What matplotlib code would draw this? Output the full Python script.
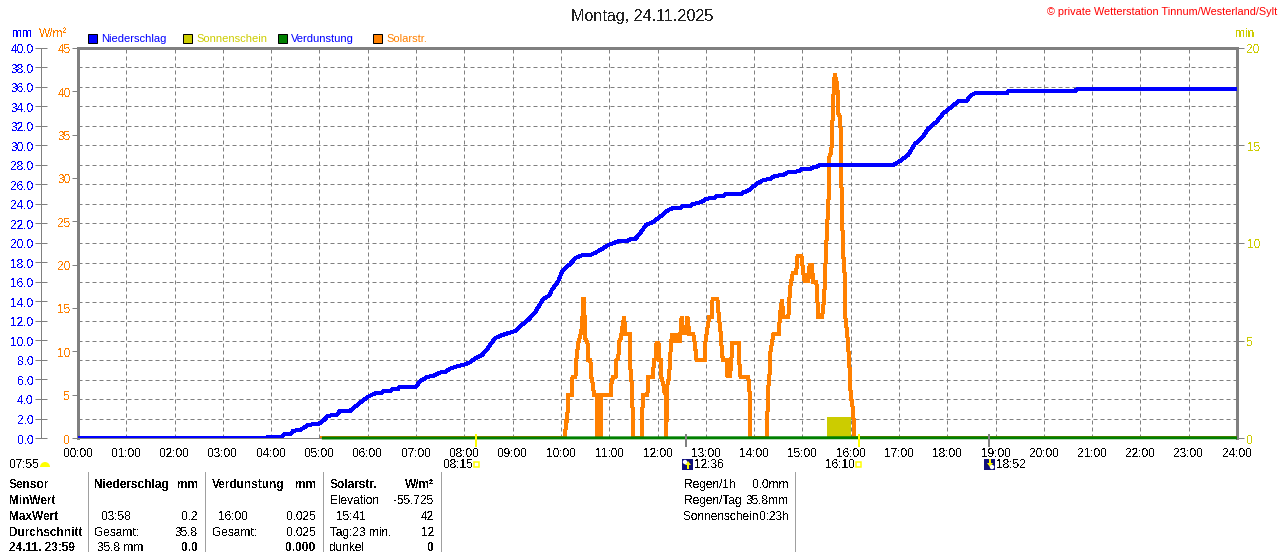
import numpy as np
import matplotlib
matplotlib.use("Agg")
import matplotlib.pyplot as plt
from matplotlib.patches import Rectangle, Wedge, Polygon, Circle
from matplotlib.transforms import IdentityTransform, Affine2D

plt.rcParams['font.family'] = ['Liberation Sans', 'DejaVu Sans']
plt.rcParams['text.antialiased'] = False

hours = list(range(25))
hour_labels = [f"{h:02d}:00" for h in hours]

rain_t = [0, 3.9, 3.94, 4.22, 4.26, 4.39, 4.46, 4.60, 4.77, 4.98, 5.08, 5.18, 5.36, 5.42, 5.63, 5.84, 6.01, 6.15,
          6.27, 6.31, 6.46, 6.51, 6.62, 6.65, 6.99, 7.08, 7.24, 7.36, 7.48, 7.60, 7.70, 7.87, 8.01, 8.12, 8.22,
          8.36, 8.46, 8.63, 8.77, 8.94, 9.07, 9.19, 9.32, 9.46, 9.63, 9.77, 9.81, 9.94, 10.03, 10.19, 10.31,
          10.43, 10.59, 10.70, 10.84, 10.98, 11.19, 11.36, 11.43, 11.53, 11.64, 11.76, 11.91, 12.09, 12.22,
          12.31, 12.46, 12.53, 12.67, 12.74, 12.91, 13.02, 13.19, 13.22, 13.36, 13.40, 13.74, 13.78, 13.88,
          14.04, 14.19, 14.33, 14.43, 14.59, 14.71, 14.93, 14.97, 15.17, 15.22, 15.29, 15.34, 16.88, 17.02,
          17.19, 17.33, 17.47, 17.60, 17.78, 17.92, 18.09, 18.23, 18.39, 18.50, 18.57, 19.23, 19.26, 20.64,
          20.68, 24]
rain_v = [0, 0, 0.13, 0.13, 0.37, 0.37, 0.75, 0.82, 1.36, 1.43, 1.78, 2.29, 2.36, 2.77, 2.77, 3.62, 4.24, 4.58,
          4.58, 4.78, 4.78, 4.99, 4.99, 5.19, 5.19, 5.81, 6.29, 6.36, 6.70, 6.77, 7.11, 7.38, 7.55, 7.76, 8.17,
          8.48, 9.02, 10.22, 10.53, 10.80, 11.0, 11.59, 12.10, 12.85, 14.22, 14.67, 15.18, 16.03, 17.16, 17.84, 18.49,
          18.73, 18.73, 18.97, 19.35, 19.79, 20.17, 20.17, 20.37, 20.37, 20.99, 21.84, 22.15, 22.84, 23.38,
          23.55, 23.55, 23.79, 23.79, 24.0, 24.2, 24.55, 24.62, 24.79, 24.79, 24.99, 24.99, 25.20, 25.37,
          26.02, 26.46, 26.56, 26.91, 26.94, 27.28, 27.35, 27.56, 27.59, 27.76, 27.76, 27.95, 27.97, 28.41,
          29.03, 30.16, 30.74, 31.69, 32.45, 33.30, 33.98, 34.53, 34.53, 35.18, 35.35, 35.35, 35.56, 35.56,
          35.76, 35.76]

solar_t = [5.05, 10.09, 10.10, 10.13, 10.15, 10.23, 10.24, 10.30, 10.32, 10.36, 10.41, 10.44, 10.46, 10.48, 10.50,
           10.55, 10.57, 10.61, 10.63, 10.67, 10.68, 10.74, 10.745, 10.77, 10.79, 10.80, 10.82, 10.83, 10.84, 11.03,
           11.05, 11.08, 11.13, 11.15, 11.19, 11.20, 11.24, 11.28, 11.31, 11.33, 11.43, 11.44, 11.47, 11.50, 11.67,
           11.675, 11.70, 11.79, 11.81, 11.90, 11.93, 11.97, 11.98, 12.02, 12.04, 12.07, 12.08, 12.13, 12.15, 12.17,
           12.18, 12.19, 12.20, 12.24, 12.27, 12.30, 12.33, 12.36, 12.39, 12.43, 12.46, 12.50, 12.53, 12.57, 12.60,
           12.62, 12.66, 12.74, 12.77, 12.81, 12.98, 12.99, 13.07, 13.12, 13.14, 13.24, 13.27, 13.31, 13.34, 13.36,
           13.43, 13.45, 13.48, 13.50, 13.53, 13.55, 13.68, 13.69, 13.72, 13.88, 13.91, 13.92, 14.27, 14.275, 14.29,
           14.33, 14.34, 14.40, 14.52, 14.53, 14.58, 14.60, 14.71, 14.73, 14.75, 14.80, 14.87, 14.90, 14.98, 15.02,
           15.05, 15.09, 15.12, 15.15, 15.20, 15.22, 15.29, 15.33, 15.41, 15.45, 15.49, 15.55, 15.555, 15.60, 15.63,
           15.65, 15.67, 15.71, 15.73, 15.74, 15.78, 15.80, 15.81, 15.84, 15.88, 15.89, 15.94, 15.98, 16.0, 16.05,
           16.08, 24]
solar_v = [0, 0, 2, 2, 5, 5, 7, 7, 9, 11, 12, 13, 16, 16, 11.5,
           11, 9, 9, 7, 6, 5, 5, 0, 5, 0, 5, 0, 5, 5, 5,
           6.5, 7, 7, 9, 9.2, 11, 11.5, 13, 14, 12, 12, 8, 6, 0, 0,
           1.5, 5, 5, 7, 7, 9, 9.2, 11, 11, 9, 9, 7, 6, 5, 6,
           0, 3, 6, 7, 10, 12, 11, 12, 11, 12, 11, 14, 12, 13, 12,
           14, 12, 12, 11, 9, 9, 11, 14, 14, 16, 16, 14, 12, 9.5, 9,
           9, 7, 9, 7, 9, 11, 11, 9, 7, 7, 5, 0, 0, 2.5, 5.5,
           8, 10, 12, 12, 14, 16, 14, 14, 16, 17.5, 19, 19, 21, 21, 19,
           18, 19, 18, 20, 20, 18, 18, 14, 14, 16, 21.7, 28.6, 32.4, 33, 37.5,
           40.5, 42, 41, 40, 37.5, 37, 34.5, 29, 21.7, 18.5, 14, 11.3, 7.8, 5, 3.2,
           0, 0]

evap_t = [5.05, 16.0, 24]
evap_v = [0.0, 0.025, 0.025]

sun_t = [15.5, 16.0]
sun_v = [1.08, 1.08]

marks_t = [8.25, 12.6, 16.17, 18.87]
mark_colors = ['#FFFF00', '#808080', '#FFFF00', '#808080']

rain_ticks = list(np.arange(0, 41, 2))
solar_ticks = list(range(0, 46, 5))
sun_ticks = [0, 5, 10, 15, 20]

BLUE = '#0000FF'
ORANGE = '#FF8000'
SUN = '#CCCC00'
GREEN = '#008000'
GRAY = '#808080'
FS = 8.6
px = 0.72

W, H = 1280, 552
fig = plt.figure(figsize=(W / 100, H / 100), dpi=100, facecolor='white')
L, R, T, B = 78, 1237, 48, 438
base = fig.add_axes([L / W, 1 - B / H, (R - L) / W, (B - T) / H])
solar = base.twinx()
rain = base.twinx()

# base: sun axis + grid
base.set_xlim(0, 24)
base.set_ylim(0, 20)
base.set_xticks(hours)
base.set_xticklabels(hour_labels, fontsize=FS, color='black')
base.tick_params(axis='x', length=0, pad=10 * px)
base.yaxis.tick_right()
base.yaxis.set_label_position('right')
base.set_yticks(sun_ticks)
base.set_yticks(np.arange(0, 20.5, 1), minor=True)
base.tick_params(axis='y', which='major', right=True, left=False, length=5, width=1 * px, color=GRAY,
                 labelcolor=SUN, labelsize=FS, pad=2)
base.tick_params(axis='y', which='minor', length=0)
base.grid(True, axis='both', which='both', color=GRAY, linewidth=1 * px, linestyle=(0, (4, 3)))
base.set_axisbelow(True)
for s in ['top', 'right']:
    base.spines[s].set_color(GRAY)
    base.spines[s].set_linewidth(3 * px)
base.spines['left'].set_visible(False)
base.spines['bottom'].set_color(GRAY)
base.spines['bottom'].set_linewidth(1 * px)
base.bar(sun_t[0], sun_v[0], width=sun_t[1] - sun_t[0], align='edge', color=SUN, linewidth=0, zorder=3)

# solar axis
solar.set_ylim(0, 45)
solar.yaxis.tick_left()
solar.set_yticks(solar_ticks)
solar.tick_params(axis='y', length=4, width=1 * px, color=GRAY, labelcolor=ORANGE, labelsize=FS, pad=1.4)
for s in solar.spines.values():
    s.set_visible(False)
solar.spines['left'].set_visible(True)
solar.spines['left'].set_color(GRAY)
solar.spines['left'].set_linewidth(3 * px)
solar.plot(solar_t, solar_v, color=ORANGE, linewidth=3 * px, solid_joinstyle='miter', antialiased=False)

# rain axis
rain.set_ylim(0, 40)
rain.yaxis.tick_left()
rain.set_yticks(rain_ticks)
rain.set_yticklabels([f"{v:.1f}" for v in rain_ticks])
rain.tick_params(axis='y', direction='inout', length=8, width=1 * px, color=GRAY, labelcolor=BLUE, labelsize=FS, pad=1.4)
for s in rain.spines.values():
    s.set_visible(False)
rain.spines['left'].set_visible(True)
rain.spines['left'].set_position(('outward', 37 * px))
rain.spines['left'].set_color(GRAY)
rain.spines['left'].set_linewidth(1 * px)
rain.plot(rain_t, rain_v, color=BLUE, linewidth=3 * px, antialiased=False)
rain.plot(evap_t, evap_v, color=GREEN, linewidth=3 * px, clip_on=False, solid_capstyle='butt')
trans = rain.get_xaxis_transform()
for t, c in zip(marks_t, mark_colors):
    rain.plot([t, t], [-9 / 390, 4 / 390], color=c, linewidth=2 * px, transform=trans, clip_on=False,
              solid_capstyle='butt')

# nudge the value labels one pixel down, as in the reference
nudge = Affine2D().translate(0, -1)
for a in (base, solar, rain):
    for lab in a.get_yticklabels():
        lab.set_transform(lab.get_transform() + nudge)


def txt(x, y, s, color='black', ha='left', weight='normal', size=FS, **kw):
    fig.text(x / W, 1 - (y + 1) / H, s, color=color, ha=ha, va='center', fontsize=size, fontweight=weight, **kw)


def box(x0, y0, w, h, fc, ec='none', lw=0, zorder=5):
    fig.add_artist(Rectangle((x0, H - y0 - h), w, h, facecolor=fc, edgecolor=ec, linewidth=lw,
                             transform=IdentityTransform(), zorder=zorder))


# header
txt(642, 15, "Montag, 24.11.2025", ha='center', size=11.6, color='#222222')
txt(1277, 11, "© private Wetterstation Tinnum/Westerland/Sylt", color='#FF0000', ha='right', size=7.8,
    antialiased=True)
txt(22, 33, "mm", color=BLUE, ha='center')
txt(53, 33, "W/m²", color=ORANGE, ha='center')
txt(1245, 33, "min", color=SUN, ha='center')

legend_names = ["Niederschlag", "Sonnenschein", "Verdunstung", "Solarstr."]
legend_fill = [BLUE, SUN, GREEN, ORANGE]
legend_text = [BLUE, SUN, BLUE, ORANGE]
legend_x = [87, 182, 277, 372]
for x, name, fc, tc in zip(legend_x, legend_names, legend_fill, legend_text):
    box(x + 0.5, 33.5, 9, 9, fc, ec='black', lw=1 * px)
    txt(x + 14, 38, name, color=tc, size=8.0, antialiased=True)

# sun time labels
txt(10, 464, "07:55")
txt(443, 464, "08:15")
txt(694, 464, "12:36")
txt(825, 464, "16:10")
txt(996, 464, "18:52")
fig.add_artist(Wedge((45, H - 467), 5, 0, 180, facecolor='#FFFF00', edgecolor='none',
                     transform=IdentityTransform()))
box(473.5, 461.5, 5, 5, 'white', ec='#FFFF00', lw=1.5 * px)
box(855.5, 461.5, 5, 5, 'white', ec='#FFFF00', lw=1.5 * px)
for x0, up in ((682, True), (984, False)):
    box(x0, 459, 11, 11, '#10107A')
    xc = x0 + 6
    if up:
        pts = [(xc, H - 461), (xc + 3, H - 465), (xc + 1, H - 465), (xc + 1, H - 469),
               (xc - 1, H - 469), (xc - 1, H - 465), (xc - 3, H - 465)]
        dot = (x0 + 3, H - 462)
    else:
        pts = [(xc - 1, H - 459), (xc + 1, H - 459), (xc + 1, H - 463), (xc + 3, H - 463),
               (xc, H - 467), (xc - 3, H - 463), (xc - 1, H - 463)]
        dot = (x0 + 8, H - 467)
    fig.add_artist(Polygon(pts, closed=True, facecolor='#FFFF00', edgecolor='none',
                           transform=IdentityTransform(), zorder=6))
    fig.add_artist(Circle(dot, 2.2, facecolor='white', edgecolor='none',
                          transform=IdentityTransform(), zorder=6))

# table
for x in [88, 205, 323, 441, 795]:
    box(x, 472, 1, 80, '#A0A0A0')

rows_y = [484, 500, 516, 532, 547]
col_sensor = ["Sensor", "MinWert", "MaxWert", "Durchschnitt", "24.11. 23:59"]
for y, s in zip(rows_y, col_sensor):
    txt(9, y, s, weight='bold')

rain_rows = [(94, "Niederschlag", True, "mm", True), (94, "", False, "", False), (101, "03:58", False, "0.2", False),
             (94, "Gesamt:", False, "35.8", False), (97, "35.8 mm", False, "0.0", True)]
evap_rows = [(212, "Verdunstung", True, "mm", True), (212, "", False, "", False), (218, "16:00", False, "0.025", False),
             (212, "Gesamt:", False, "0.025", False), (212, "", False, "0.000", True)]
solar_rows = [(330, "Solarstr.", True, "W/m²", True), (330, "Elevation", False, "-55.725", False),
              (336, "15:41", False, "42", False), (330, "Tag:23 min.", False, "12", False),
              (330, "dunkel", False, "0", True)]
for rows, xr in ((rain_rows, 198), (evap_rows, 316), (solar_rows, 434)):
    for y, (xl, left, lb, right, rb) in zip(rows_y, rows):
        if left:
            txt(xl, y, left, weight='bold' if lb else 'normal')
        if right:
            txt(xr, y, right, ha='right', weight='bold' if rb else 'normal')

summary_left = ["Regen/1h", "Regen/Tag", "Sonnenschein"]
summary_right = ["0.0mm", "35.8mm", "0:23h"]
for y, a, b in zip(rows_y, summary_left, summary_right):
    txt(684, y, a)
    txt(789, y, b, ha='right')

fig.savefig("out.png", dpi=100, facecolor='white')
